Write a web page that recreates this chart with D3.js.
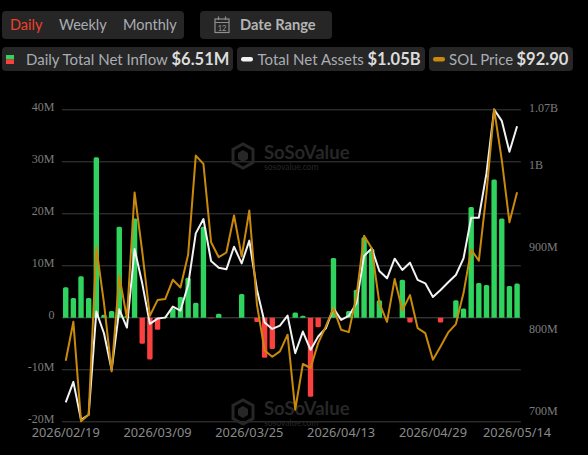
<!DOCTYPE html>
<html><head><meta charset="utf-8">
<script src="https://cdn.jsdelivr.net/npm/d3@7"></script>
<style>html,body{margin:0;padding:0;background:#000;overflow:hidden}svg{display:block}</style>
</head><body><svg id="c" width="588" height="455"></svg>
<script>
const dates=["2026/02/19","2026/02/20","2026/02/23","2026/02/24","2026/02/25","2026/02/26","2026/02/27","2026/03/02","2026/03/03","2026/03/04","2026/03/05","2026/03/06","2026/03/09","2026/03/10","2026/03/11","2026/03/12","2026/03/13","2026/03/16","2026/03/17","2026/03/18","2026/03/19","2026/03/20","2026/03/23","2026/03/24","2026/03/25","2026/03/26","2026/03/27","2026/03/30","2026/03/31","2026/04/01","2026/04/02","2026/04/06","2026/04/07","2026/04/08","2026/04/09","2026/04/10","2026/04/13","2026/04/14","2026/04/15","2026/04/16","2026/04/17","2026/04/20","2026/04/21","2026/04/22","2026/04/23","2026/04/24","2026/04/27","2026/04/28","2026/04/29","2026/04/30","2026/05/01","2026/05/04","2026/05/05","2026/05/06","2026/05/07","2026/05/08","2026/05/11","2026/05/12","2026/05/13","2026/05/14"];
const inflow=[5.8,3.7,7.9,3.7,30.8,0.5,1.2,17.4,0.3,19,-5.1,-8.1,-2.4,0.1,1.7,3.9,7.6,2.8,17.4,-0.2,0.7,0,0,4.5,0,-0.9,-7.8,-6.1,0,0,0.9,0.3,-15.3,-1.9,0,11.4,0,1.2,5.3,15.4,13.2,3.3,0,0,7.2,-1,0,0,0,-1,0,3.3,1.7,21.2,6.6,6.2,26.5,19,6,6.51];
const netAssets=[712.6,737.8,691.5,697.6,823.6,797.1,752.4,826.4,804.1,900,858.1,808.5,815,816.2,829.7,824.8,856.1,919.1,936.6,885.4,877.2,875.2,902.8,882.5,910.2,850,810.2,802.4,806.5,818.7,772.8,799.2,776.8,793.1,803.2,827.6,813.4,818.3,833.7,891.5,900.8,873.2,864.2,888.2,874.4,883.3,862.2,858.1,841.5,850,859.3,868.3,888.6,938.2,938.2,992.3,1070.3,1056.5,1018.7,1050];
const solPrice=[76.06,79.95,70,70.66,87.38,81.82,75,84.55,80.32,92.88,86.98,80.55,82.12,82.22,84.15,83.38,86.65,96.57,95.74,87.91,86.41,86.88,90.58,86.48,91.08,81.65,77.09,76.46,76.99,78.66,71.16,75.73,75.33,77.82,79.49,81.32,79.16,78.92,82.49,88.55,87.31,81.82,79.95,84.22,81.09,82.62,79.32,78.82,76.16,77.49,78.89,79.72,82.82,87.18,86.05,92.81,101.2,96.14,89.91,92.9];
const leftTicks=[-20,-10,0,10,20,30,40];
const leftLabels=["-20M","-10M","0","10M","20M","30M","40M"];
const rightTicks=[700,800,900,1000,1070];
const rightLabels=["700M","800M","900M","1B","1.07B"];
const xLabels=["2026/02/19","2026/03/09","2026/03/25","2026/04/13","2026/04/29","2026/05/14"];
const rangeTabs=["Daily","Weekly","Monthly"];

const svg=d3.select("#c");
const uiFont="Lato, 'Open Sans', sans-serif";
const plotTop=109.3,plotBottom=421.3,plotLeft=61.9,plotRight=520.9;
const x=d3.scaleBand().domain(dates).range([plotLeft,plotRight]);
const cx=d=>x(d)+x.bandwidth()/2;
const yL=d3.scaleLinear().domain([-20,40]).range([plotBottom,plotTop]);
const yR=d3.scaleLinear().domain([689.6,1070.6]).range([plotBottom,plotTop]);
const yP=d3.scaleLinear().domain([70,101.2]).range([plotBottom,plotTop]);

// header chips
function chip(x0,y0,w,h){svg.append("rect").attr("x",x0).attr("y",y0).attr("width",w).attr("height",h).attr("rx",4).attr("fill","#262626");}
chip(2,11,182,28);chip(200,11,132,28);chip(2,47,231,24);chip(237,47,188,24);chip(429,47,144,24);
function txt(s,x0,y0,size,fill,weight,anchor){return svg.append("text").attr("x",x0).attr("y",y0).attr("font-family",uiFont).attr("font-size",size).attr("fill",fill).attr("font-weight",weight||400).attr("text-anchor",anchor||"start").text(s);}
txt(rangeTabs[0],10,30,14.5,"#f0412a");
txt(rangeTabs[1],59,30,14.5,"#a9adb3");
txt(rangeTabs[2],123,30,14.5,"#a9adb3");
txt("Date Range",240,30,14.7,"#b4b4b4",700);
// calendar icon
const cal=svg.append("g").attr("fill","none").attr("stroke","#8f8f8f").attr("stroke-width",1.2);
cal.append("rect").attr("x",215).attr("y",19).attr("width",14).attr("height",13.5);
cal.append("path").attr("d","M215 22.5H229M218.5 16.5V20M225.5 16.5V20");
svg.append("text").attr("x",222).attr("y",30.5).attr("font-family",uiFont).attr("font-size",7.5).attr("fill","#9a9a9a").attr("text-anchor","middle").text("12");
// legend
svg.append("rect").attr("x",6).attr("y",55).attr("width",8).attr("height",4.5).attr("fill","#2fd35d");
svg.append("rect").attr("x",6).attr("y",59.5).attr("width",8).attr("height",4.5).attr("fill","#fb4040");
txt("Daily Total Net Inflow",26,64.5,15,"#a9adb3");
txt("$6.51M",171.5,65,16.5,"#dcdcdc",700);
svg.append("rect").attr("x",241).attr("y",57).attr("width",12).attr("height",4.5).attr("rx",2.2).attr("fill","#f2f2f2");
txt("Total Net Assets",257.5,64.5,15,"#a9adb3");
txt("$1.05B",367.5,65,16.5,"#dcdcdc",700);
svg.append("rect").attr("x",433).attr("y",57).attr("width",12).attr("height",4.5).attr("rx",2.2).attr("fill","#c98a0c");
txt("SOL Price",449,64.5,15,"#a9adb3");
txt("$92.90",516.5,65,16.5,"#dcdcdc",700);

// grid
svg.append("g").selectAll("line").data(leftTicks).join("line")
 .attr("x1",plotLeft).attr("x2",plotRight).attr("y1",d=>yL(d)+.5).attr("y2",d=>yL(d)+.5)
 .attr("stroke",d=>d===0?"#4a4a4a":"#3c3c3c").attr("stroke-width",1);

// watermark
function wm(tx,ty){
 const c="#272727";
 const g=svg.append("g").attr("transform",`translate(${tx},${ty})`);
 g.append("path").attr("d","M0 -12L10 -6.5V6.5L0 12L-10 6.5V-6.5Z").attr("fill","none").attr("stroke",c).attr("stroke-width",3);
 g.append("path").attr("d","M-5 -3L0 -6L5 -3V3L0 6L-5 3Z").attr("fill",c);
 g.append("text").attr("x",21).attr("y",2.5).attr("font-family",uiFont).attr("font-size",18.5).attr("font-weight",700).attr("fill",c).text("SoSoValue");
 g.append("text").attr("x",21).attr("y",13.5).attr("font-family",uiFont).attr("font-size",8.5).attr("fill",c).text("sosovalue.com");
}
wm(243,156);wm(243,412);

// bars
const bw=5.4;
svg.append("g").selectAll("path").data(dates.map((d,i)=>({d,v:inflow[i]})).filter(e=>e.v!==0)).join("path")
 .attr("fill",e=>e.v>=0?"#2fd35d":"#fb4040")
 .attr("d",e=>{
   const X=cx(e.d)-bw/2,y0=yL(0)+.5,y1=yL(e.v),h=Math.abs(y1-y0),r=Math.min(1.5,h);
   return e.v>=0
    ?`M${X} ${y0}V${y1+r}Q${X} ${y1} ${X+r} ${y1}H${X+bw-r}Q${X+bw} ${y1} ${X+bw} ${y1+r}V${y0}Z`
    :`M${X} ${y0}V${y1-r}Q${X} ${y1} ${X+r} ${y1}H${X+bw-r}Q${X+bw} ${y1} ${X+bw} ${y1-r}V${y0}Z`;
 });

// lines
const ln=(sc,arr)=>d3.line().x((d,i)=>cx(dates[i])).y(d=>sc(d))(arr);
svg.append("path").attr("d",ln(yR,netAssets)).attr("fill","none").attr("stroke","#f2f2f2").attr("stroke-width",2).attr("stroke-linejoin","round");
svg.append("path").attr("d",ln(yP,solPrice)).attr("fill","none").attr("stroke","#c98a0c").attr("stroke-width",2).attr("stroke-linejoin","round");

// axes
const aL=d3.axisLeft(yL).tickValues(leftTicks).tickFormat((d,i)=>leftLabels[i]).tickSize(0).tickPadding(0);
const gL=svg.append("g").attr("transform","translate(54.5,-2.5)").call(aL);
const aR=d3.axisRight(yR).tickValues(rightTicks).tickFormat((d,i)=>rightLabels[i]).tickSize(0).tickPadding(0);
const gR=svg.append("g").attr("transform","translate(529,-2.5)").call(aR);
const aB=d3.axisBottom(x).tickValues(xLabels).tickSize(0).tickPadding(0);
const gB=svg.append("g").attr("transform","translate(0,428)").call(aB);
[gL,gR].forEach(g=>{g.select(".domain").remove();g.selectAll("text").attr("font-family","'Liberation Serif',serif").attr("font-size",12).attr("fill","#7c7c7c");});
gB.select(".domain").remove();
gB.selectAll("text").attr("font-family","'Noto Sans','Open Sans',sans-serif").attr("font-size",12.8).attr("fill","#8a8a8a");
</script></body></html>
